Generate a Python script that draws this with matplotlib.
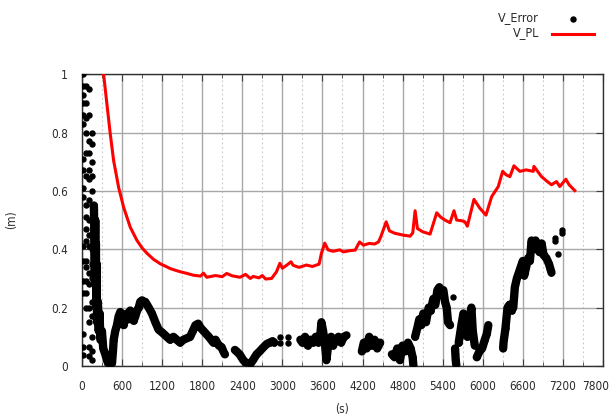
import matplotlib
matplotlib.use("Agg")
import matplotlib.pyplot as plt
import numpy as np
from matplotlib.lines import Line2D
from matplotlib.ticker import FuncFormatter, MultipleLocator

nan = np.nan

# protection level (red line)
pl_time = [325, 375, 425, 475, 550, 625, 725, 825, 900, 975, 1075, 1175, 1250, 1321,
           1400, 1471, 1560, 1670, 1775, 1820, 1869, 2000, 2100, 2167, 2250, 2366, 2450,
           2520, 2565, 2650, 2700, 2750, 2839, 2913, 2963, 3000, 3063, 3130, 3162, 3250,
           3361, 3450, 3550, 3585, 3635, 3684, 3760, 3858, 3916, 4000, 4090, 4155, 4215,
           4300, 4380, 4439, 4474, 4554, 4603, 4680, 4738, 4820, 4912, 4952, 4987, 5022,
           5100, 5211, 5311, 5370, 5435, 5510, 5569, 5609, 5680, 5734, 5769, 5868, 5958,
           6048, 6132, 6232, 6297, 6350, 6406, 6466, 6555, 6650, 6755, 6765, 6879, 6950,
           7028, 7103, 7153, 7243, 7292, 7377]
pl_value = [1.0, 0.897, 0.795, 0.704, 0.612, 0.544, 0.475, 0.43, 0.405, 0.386, 0.365,
            0.35, 0.342, 0.334, 0.328, 0.323, 0.318, 0.311, 0.308, 0.318, 0.304, 0.31,
            0.306, 0.317, 0.309, 0.304, 0.314, 0.3, 0.307, 0.302, 0.31, 0.298, 0.3,
            0.323, 0.352, 0.335, 0.345, 0.357, 0.345, 0.338, 0.346, 0.341, 0.349, 0.386,
            0.421, 0.398, 0.393, 0.398, 0.391, 0.395, 0.397, 0.425, 0.414, 0.42, 0.418,
            0.425, 0.443, 0.494, 0.463, 0.455, 0.452, 0.448, 0.445, 0.456, 0.532, 0.471,
            0.46, 0.452, 0.525, 0.51, 0.5, 0.491, 0.532, 0.5, 0.498, 0.494, 0.479, 0.571,
            0.54, 0.517, 0.58, 0.615, 0.667, 0.655, 0.649, 0.686, 0.667, 0.672, 0.667,
            0.684, 0.649, 0.635, 0.621, 0.632, 0.615, 0.64, 0.621, 0.601]

# position error, continuous stretches separated by nan
err_time = [180, 188, 194, 200, 205, 210, 215, 220, 227, 240, 252, 265, 277, 300, 320,
            351, 375, 401, 425, 451, 465, 476, 500, 525, 550, 575, 600, 625, 650, 675,
            700, 724, 750, 774, 800, 825, 850, 874, 900, 925, 948, 975, 1000, 1048, 1100,
            1147, 1200, 1272, 1320, 1370, 1421, 1470, 1520, 1570, 1620, 1660, 1700, 1740,
            1780, 1819, 1860, 1900, 1968, 2000, 2050, 2090, 2117, 2140, nan,
            2290, 2316, 2360, 2416, 2460, 2515, 2560, 2615, 2660, 2700, 2764, 2810, 2854,
            2880, nan,
            3270, 3300, 3340, 3380, 3420, 3460, 3500, 3540, 3570, 3585, 3610, 3640, 3660,
            3690, 3730, 3760, 3800, 3840, 3880, 3920, 3960, nan,
            4190, 4220, 4260, 4300, 4340, 4380, 4420, 4464, nan,
            4640, 4680, 4720, 4760, 4800, 4840, 4880, 4920, 4950, 4962, nan,
            4987, 5020, 5050, 5080, 5110, 5150, 5190, 5220, 5260, 5290, 5320, 5350, 5380,
            5410, 5435, 5460, 5480, 5510, nan,
            5585, 5595, 5605, nan,
            5640, 5680, 5710, 5740, 5770, 5800, 5830, 5850, 5880, nan,
            5910, 5950, 5990, 6030, 6060, 6083, nan,
            6305, 6310, 6340, 6370, 6400, 6430, 6456, 6480, 6510, 6540, 6570, 6600, 6620,
            6650, 6680, 6705, 6730, 6760, 6790, 6820, 6850, 6880, 6910, 6950, 6990, 7028]
err_value = [0.55, 0.42, 0.3, 0.5, 0.28, 0.42, 0.2, 0.35, 0.15, 0.22, 0.12, 0.18, 0.09,
             0.12, 0.06, 0.04, 0.02, 0.005, 0.0, 0.01, 0.05, 0.09, 0.12, 0.14, 0.17,
             0.185, 0.16, 0.14, 0.17, 0.18, 0.16, 0.19, 0.175, 0.155, 0.17, 0.19, 0.2,
             0.22, 0.225, 0.215, 0.22, 0.21, 0.2, 0.18, 0.15, 0.125, 0.115, 0.1, 0.09,
             0.1, 0.09, 0.08, 0.09, 0.095, 0.1, 0.12, 0.14, 0.145, 0.13, 0.12, 0.11,
             0.1, 0.08, 0.09, 0.07, 0.065, 0.05, 0.04, nan,
             0.055, 0.05, 0.04, 0.02, 0.01, 0.005, 0.02, 0.04, 0.05, 0.06, 0.075, 0.08,
             0.085, 0.08, nan,
             0.09, 0.08, 0.1, 0.07, 0.09, 0.08, 0.1, 0.08, 0.11, 0.15, 0.12, 0.07, 0.02,
             0.08, 0.1, 0.07, 0.09, 0.1, 0.08, 0.1, 0.105, nan,
             0.05, 0.08, 0.06, 0.1, 0.07, 0.09, 0.06, 0.08, nan,
             0.04, 0.03, 0.06, 0.02, 0.07, 0.05, 0.08, 0.06, 0.03, 0.0, nan,
             0.1, 0.13, 0.16, 0.14, 0.18, 0.15, 0.2, 0.19, 0.23, 0.21, 0.26, 0.27, 0.25,
             0.26, 0.22, 0.2, 0.15, 0.14, nan,
             0.06, 0.02, 0.0, nan,
             0.08, 0.14, 0.18, 0.13, 0.1, 0.16, 0.2, 0.12, 0.07, nan,
             0.03, 0.05, 0.06, 0.09, 0.11, 0.14, nan,
             0.06, 0.08, 0.13, 0.2, 0.21, 0.19, 0.2, 0.27, 0.3, 0.32, 0.34, 0.36, 0.31,
             0.34, 0.37, 0.36, 0.43, 0.41, 0.43, 0.4, 0.39, 0.42, 0.38, 0.37, 0.35, 0.32]

# isolated error samples (start-up scatter and lone fixes)
dot_time = [15] * 17 + [55] * 15 + [105] * 16 + [150] * 16 + [
    2963, 2963, 3087, 3087, 5560, 7078, 7085, 7128, 7188, 7190]
dot_value = [1.0, 0.96, 0.93, 0.9, 0.86, 0.83, 0.71, 0.67, 0.61, 0.58, 0.41, 0.36, 0.29,
             0.25, 0.11, 0.065, 0.036,
             0.96, 0.9, 0.85, 0.8, 0.73, 0.65, 0.55, 0.51, 0.47, 0.43, 0.36, 0.34, 0.29,
             0.25, 0.2,
             0.95, 0.86, 0.77, 0.73, 0.67, 0.64, 0.57, 0.5, 0.45, 0.41, 0.32, 0.28, 0.2,
             0.15, 0.065, 0.035,
             0.8, 0.76, 0.7, 0.65, 0.6, 0.55, 0.5, 0.45, 0.4, 0.35, 0.3, 0.22, 0.17, 0.1,
             0.05, 0.02,
             0.1, 0.08, 0.1, 0.08, 0.235, 0.44, 0.43, 0.385, 0.465, 0.455]

X_MAX = 7800
TEXT = "#2a2a2a"
plt.rcParams["font.family"] = "DejaVu Sans"
plt.rcParams["font.stretch"] = "condensed"
plt.rcParams["font.size"] = 8.5

fig = plt.figure(figsize=(6.11, 4.19), dpi=100)
ax = fig.add_axes([0.134, 0.1265, 0.853, 0.6965])

ax.plot(err_time, err_value, color="black", lw=6, solid_capstyle="round",
        solid_joinstyle="round", zorder=3)
ax.plot(err_time, err_value, "o", color="black", ms=3.6, zorder=3)
ax.plot(dot_time, dot_value, "o", color="black", ms=3.6, lw=0, zorder=3)
ax.plot(pl_time, pl_value, color="red", lw=2.2, zorder=4)

ax.set_xlim(0, X_MAX)
ax.set_ylim(0, 1)
ax.xaxis.set_major_locator(MultipleLocator(600))
ax.xaxis.set_minor_locator(MultipleLocator(300))
# the last x label is placed by hand so it stays inside the figure
ax.xaxis.set_major_formatter(FuncFormatter(lambda v, p: "" if v >= X_MAX else f"{v:.0f}"))
ax.set_yticks([0, 0.2, 0.4, 0.6, 0.8, 1.0])
ax.set_yticklabels(["0", "0.2", "0.4", "0.6", "0.8", "1"])

ax.grid(which="major", color="#a8a8a8", lw=1, ls="-", zorder=0)
ax.grid(which="minor", axis="x", color="#c8c8c8", lw=0.8, ls=(0, (1.5, 2.5)), zorder=0)
ax.tick_params(which="both", direction="in", top=True, right=True, colors="#404040",
               labelcolor=TEXT, labelsize=8.5)
ax.tick_params(which="major", length=5, pad=10)
ax.tick_params(which="minor", length=3)
for s in ax.spines.values():
    s.set_color("#303030")
    s.set_linewidth(1)

ax.annotate(f"{X_MAX}", xy=(X_MAX, 0), xycoords=("data", "axes fraction"),
            xytext=(-5, -10), textcoords="offset points", ha="center", va="top",
            color=TEXT, fontsize=8.5)

ax.set_xlabel("(s)", color=TEXT, labelpad=7)
ax.set_ylabel("(m)", color=TEXT, labelpad=24)

# legend outside the axes, top right
fig.text(539 / 611, 1 - 18 / 419, "V_Error", ha="right", va="center", color=TEXT,
         fontsize=9)
fig.add_artist(Line2D([573 / 611], [1 - 19 / 419], marker="o", color="black", ms=3.6,
                      lw=0, transform=fig.transFigure))
fig.text(539 / 611, 1 - 33 / 419, "V_PL", ha="right", va="center", color=TEXT,
         fontsize=9)
fig.add_artist(Line2D([552 / 611, 594 / 611], [1 - 34 / 419] * 2, color="red", lw=2.2,
                      transform=fig.transFigure))

fig.savefig("out.png", dpi=100)
